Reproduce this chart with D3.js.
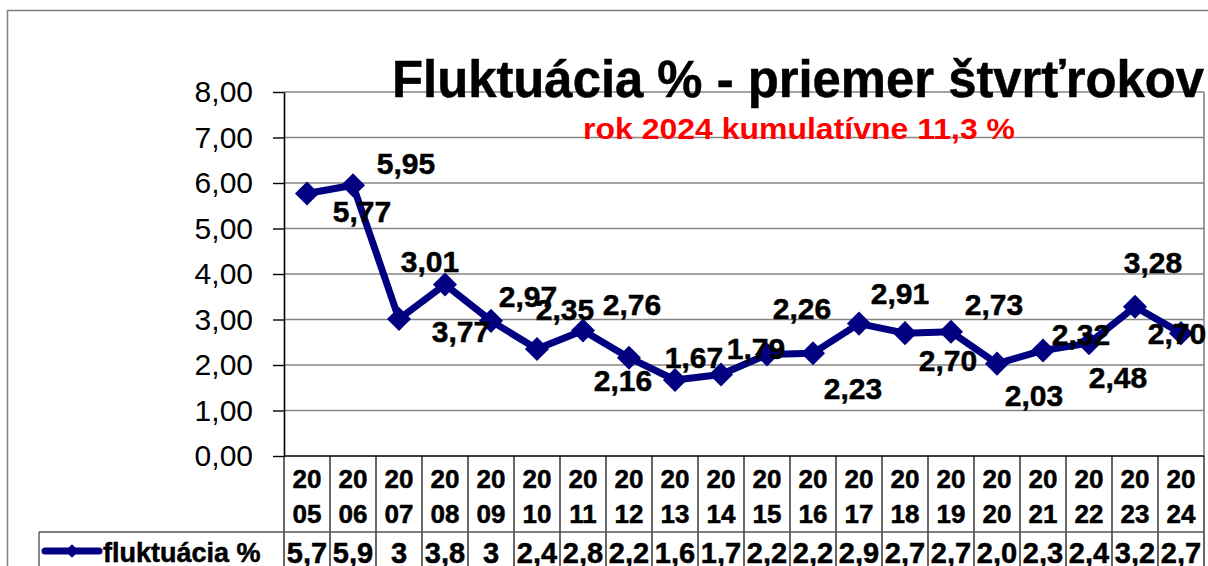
<!DOCTYPE html>
<html>
<head>
<meta charset="utf-8">
<script src="https://cdn.jsdelivr.net/npm/d3@7"></script>
<style>
  body { margin: 0; background: #fff; }
  svg { display: block; font-family: "Liberation Sans", Arial, sans-serif; }
  .heavy { stroke: currentColor; stroke-width: 0.5px; }
</style>
</head>
<body>
<svg class="line-chart"></svg>
<script>
const years = ['2005','2006','2007','2008','2009','2010','2011','2012','2013','2014',
  '2015','2016','2017','2018','2019','2020','2021','2022','2023','2024'];
const values = [5.77, 5.95, 3.01, 3.77, 2.97, 2.35, 2.76, 2.16, 1.67, 1.79,
  2.23, 2.26, 2.91, 2.70, 2.73, 2.03, 2.32, 2.48, 3.28, 2.70];
// values as printed in the data table under the chart
const tableValues = ['5,7','5,9','3','3,8','3','2,4','2,8','2,2','1,6','1,7',
  '2,2','2,2','2,9','2,7','2,7','2,0','2,3','2,4','3,2','2,7'];
const yTicks = [0, 1, 2, 3, 4, 5, 6, 7, 8];
const seriesName = 'fluktuácia %';
const title = 'Fluktuácia % - priemer štvrťrokov';
const subtitle = 'rok 2024 kumulatívne 11,3 %';

// label placement (pixels from the marker), as the labels were dragged in the original
const labelOffsets = [[55,18],[53,-22],[31,-58],[16,47],[37,-25],[28,-40],[49,-26],[-6,22],[19,-23],[35,-26],
  [86,34],[-11,-45],[41,-30],[43,27],[43,-28],[37,32],[38,-16],[29,34],[18,-45],[-4,0]];

const data = years.map((y, i) => ({ year: y, value: values[i], table: tableValues[i], off: labelOffsets[i] }));

drawChart(data);

function drawChart(data) {
  const svgWidth = 1208, svgHeight = 566;
  const plot = { left: 284, right: 1204, top: 92, bottom: 456 };
  const fmt = v => d3.format('.2f')(v).replace('.', ',');
  const navy = '#000080';

  const svg = d3.select('svg.line-chart')
    .attr('width', svgWidth)
    .attr('height', svgHeight);

  // outer chart frame
  svg.append('path')
    .attr('d', `M7.5,${svgHeight} V10.5 H${svgWidth}`)
    .attr('fill', 'none')
    .attr('stroke', '#808080')
    .attr('stroke-width', 1.5);

  const x = d3.scaleBand()
    .domain(years)
    .range([plot.left, plot.right]);

  const y = d3.scaleLinear()
    .domain([0, 8])
    .range([plot.bottom, plot.top]);

  // gridlines
  svg.append('g')
    .selectAll('line')
    .data(yTicks.filter(t => t > 0))
    .join('line')
    .attr('x1', plot.left)
    .attr('x2', plot.right)
    .attr('y1', d => y(d))
    .attr('y2', d => y(d))
    .attr('stroke', '#858585')
    .attr('stroke-width', 1.6);

  // right border of plot area
  svg.append('line')
    .attr('x1', plot.right).attr('x2', plot.right)
    .attr('y1', plot.top).attr('y2', plot.bottom)
    .attr('stroke', '#858585')
    .attr('stroke-width', 1.6);

  // title
  svg.append('text')
    .attr('class', 'heavy')
    .attr('x', 798)
    .attr('y', 97)
    .attr('text-anchor', 'middle')
    .attr('font-size', 51)
    .attr('font-weight', 'bold')
    .attr('fill', '#000')
    .style('color', '#000')
    .attr('textLength', 812)
    .attr('lengthAdjust', 'spacingAndGlyphs')
    .text(title);

  svg.append('text')
    .attr('x', 799)
    .attr('y', 139)
    .attr('text-anchor', 'middle')
    .attr('font-size', 29)
    .attr('font-weight', 'bold')
    .attr('fill', '#ff0000')
    .attr('textLength', 432)
    .attr('lengthAdjust', 'spacingAndGlyphs')
    .text(subtitle);

  // y axis
  const yAxis = svg.append('g')
    .attr('transform', `translate(${plot.left}, 0)`)
    .call(d3.axisLeft(y).tickValues(yTicks).tickFormat(fmt).tickSize(11).tickSizeOuter(0).tickPadding(20));
  yAxis.select('.domain').attr('stroke', '#000').attr('stroke-width', 1.6);
  yAxis.selectAll('.tick line').attr('stroke', '#000').attr('stroke-width', 1.4);
  yAxis.selectAll('.tick text')
    .attr('font-size', 30)
    .attr('font-family', '"Liberation Sans", Arial, sans-serif')
    .attr('fill', '#000');

  // x axis line
  svg.append('line')
    .attr('x1', plot.left).attr('x2', plot.right)
    .attr('y1', plot.bottom).attr('y2', plot.bottom)
    .attr('stroke', '#000')
    .attr('stroke-width', 1.4);

  // data table
  const table = svg.append('g');
  const rowLine = 532;
  table.selectAll('line.col')
    .data(years.concat(['end']))
    .join('line')
    .attr('class', 'col')
    .attr('x1', (d, i) => i < years.length ? x(d) : plot.right)
    .attr('x2', (d, i) => i < years.length ? x(d) : plot.right)
    .attr('y1', plot.bottom)
    .attr('y2', svgHeight)
    .attr('stroke', '#000')
    .attr('stroke-width', 1.2);
  table.append('line')
    .attr('x1', 39).attr('x2', plot.right)
    .attr('y1', rowLine).attr('y2', rowLine)
    .attr('stroke', '#555')
    .attr('stroke-width', 1.4);
  table.append('line')
    .attr('x1', 39).attr('x2', 39)
    .attr('y1', rowLine).attr('y2', svgHeight)
    .attr('stroke', '#555')
    .attr('stroke-width', 1.4);

  const head = table.selectAll('text.year')
    .data(years)
    .join('text')
    .attr('class', 'year heavy')
    .attr('text-anchor', 'middle')
    .attr('font-size', 26)
    .attr('font-weight', 'bold')
    .attr('fill', '#000')
    .style('color', '#000');
  head.append('tspan')
    .attr('x', d => x(d) + x.bandwidth() / 2)
    .attr('y', 488)
    .text(d => d.slice(0, 2));
  head.append('tspan')
    .attr('x', d => x(d) + x.bandwidth() / 2)
    .attr('y', 523)
    .text(d => d.slice(2));

  table.selectAll('text.val')
    .data(data)
    .join('text')
    .attr('class', 'val heavy')
    .attr('x', d => x(d.year) + x.bandwidth() / 2)
    .attr('y', 563)
    .attr('text-anchor', 'middle')
    .attr('font-size', 29)
    .attr('font-weight', 'bold')
    .attr('fill', '#000')
    .style('color', '#000')
    .text(d => d.table);

  // legend key in table
  const legend = table.append('g');
  legend.append('line')
    .attr('x1', 45).attr('x2', 99)
    .attr('y1', 551).attr('y2', 551)
    .attr('stroke', navy)
    .attr('stroke-width', 7)
    .attr('stroke-linecap', 'round');
  legend.append('path')
    .attr('d', d3.symbol(d3.symbolSquare, 90)())
    .attr('transform', 'translate(72,551) rotate(45)')
    .attr('fill', navy);
  legend.append('text')
    .attr('class', 'heavy')
    .attr('x', 103)
    .attr('y', 562)
    .attr('font-size', 27)
    .attr('font-weight', 'bold')
    .attr('fill', '#000')
    .style('color', '#000')
    .text(seriesName);

  // series line
  const line = d3.line()
    .x(d => x(d.year) + x.bandwidth() / 2)
    .y(d => y(d.value));

  svg.append('path')
    .datum(data)
    .attr('fill', 'none')
    .attr('stroke', navy)
    .attr('stroke-width', 7)
    .attr('stroke-linejoin', 'round')
    .attr('d', line);

  svg.append('g')
    .selectAll('path')
    .data(data)
    .join('path')
    .attr('d', d3.symbol(d3.symbolSquare, 290)())
    .attr('transform', d => `translate(${x(d.year) + x.bandwidth() / 2}, ${y(d.value)}) rotate(45)`)
    .attr('fill', navy);

  // data labels
  svg.append('g')
    .selectAll('text')
    .data(data)
    .join('text')
    .attr('class', 'heavy')
    .attr('x', d => x(d.year) + x.bandwidth() / 2 + d.off[0])
    .attr('y', d => y(d.value) + d.off[1])
    .attr('dy', '0.36em')
    .attr('text-anchor', 'middle')
    .attr('font-size', 30)
    .attr('font-weight', 'bold')
    .attr('fill', '#000')
    .style('color', '#000')
    .text(d => fmt(d.value));
}
</script>
</body>
</html>
